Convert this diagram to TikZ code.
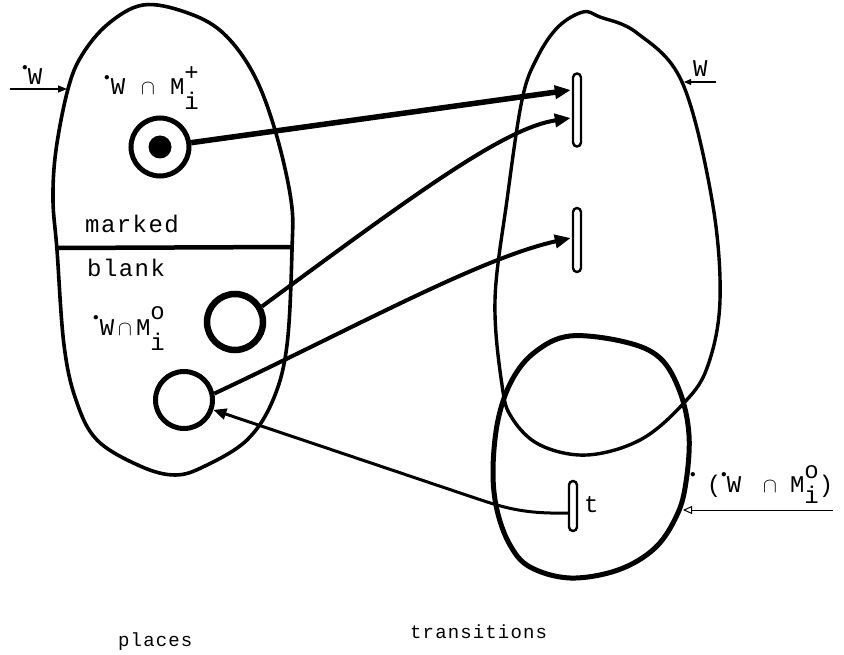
\documentclass[tikz,border=0pt]{standalone}
\usepackage{graphicx}
\usepackage{fontspec}
\setmonofont{Liberation Mono}
\newfontfamily\tw[LetterSpace=6]{Liberation Mono}
\usetikzlibrary{arrows.meta,calc}
\newcommand\udot{\raisebox{0.62em}{\scalebox{0.45}{$\bullet$}}}
\newcommand\capx{{\fontsize{20}{20}\selectfont$\cap$}}
\tikzset{
 blob/.style={line width=3.6pt, line join=round},
 place/.style={circle, draw, line width=5pt, minimum size=58pt, inner sep=0pt},
 token/.style={circle, fill, minimum size=23pt, inner sep=0pt},
 trans/.style={rectangle, draw, line width=2.4pt, rounded corners=4pt, minimum width=8pt, inner sep=0pt, fill=white},
 arc/.style={line width=4pt, -{Triangle[length=16pt,width=13pt]}},
 lbl/.style={inner sep=0pt, anchor=base west, font=\tw\fontsize{24}{28}\selectfont},
 botlbl/.style={inner sep=0pt, anchor=base west, font=\tw\fontsize{19}{22}\selectfont},
 pointer/.style={line width=1.3pt, -{Triangle[length=9pt,width=7pt]}},
}
\begin{document}
\begin{tikzpicture}[x=1pt,y=-1pt]
\useasboundingbox (0,0) rectangle (844,655);
% left blob (places)
\draw[blob] plot[smooth cycle, tension=0.6] coordinates {
 (143,5) (185,12) (222,32) (253,73) (275,130) (291,200) (292,250) (287,345)
 (273,400) (247,440) (205,466) (175,475) (140,466) (97,440) (76,400) (64,345)
 (57,250) (53,200) (56,150) (68,89) (82,55) (108,24)};
% separator
\draw[line width=4.5pt] (57,248) -- (292,247);
% upper right blob (W)
\draw[blob, line width=3.4pt] plot[smooth cycle, tension=0.6] coordinates {
 (583,12) (600,17) (637,33) (682,82) (712,200) (720,300) (707,368) (682,405)
 (640,440) (587,455) (540,445) (512,418) (502,385) (495,300) (507,200)
 (522,100) (537,58) (558,27)};
% lower right blob
\draw[blob, line width=5pt] plot[smooth cycle, tension=0.6] coordinates {
 (570,336) (625,342) (660,358) (680,392) (689,435) (686,482) (677,515)
 (655,548) (618,570) (570,578) (530,567) (510,545) (497,510) (493,470)
 (498,420) (512,380) (535,352)};
% places
\node[place] (p1) at (160,147) {};
\node[token] (tok) at (p1) {};
\node[place, line width=6.5pt, minimum size=56pt] (p2) at (235,322) {};
\node[place, minimum size=57pt] (p3) at (184,400) {};
% transitions
\node[trans, minimum height=73pt] (t1) at (577,110) {};
\node[trans, minimum height=64pt] (t2) at (577,240) {};
\node[trans, minimum height=50pt] (t3) at (573,506) {};
% arcs
\draw[arc, line width=5.5pt] (p1) -- ($(t1.west)+(-1,-20)$);
\draw[arc] (p2.30) .. controls (420,190) and (505,128) .. ($(t1.west)+(-1,8)$);
\draw[arc] (p3.12) .. controls (350,330) and (480,258) .. ($(t2.west)+(-1,-2)$);
\coordinate (bend) at (478,499);
\draw[line width=3pt, -{Triangle[length=13pt,width=11pt]}]
  ($(t3.west)+(0,7)$) .. controls (525,514) and (505,508) .. (bend) -- (p3);
% pointer arrows
\coordinate (wl0) at (10,89);
\coordinate (wl1) at (67,89);
\draw[pointer] (wl0) -- (wl1);
\coordinate (wr0) at (716,82);
\coordinate (wr1) at (684,82);
\draw[pointer, line width=1.1pt, -{Triangle[length=7pt,width=6pt]}] (wr0) -- (wr1);
\coordinate (br0) at (833,510);
\coordinate (br1) at (683,510);
\draw[line width=1pt, -{Triangle[open,length=9pt,width=8pt]}] (br0) -- (br1);
% labels
\node[lbl] (lw) at (22,85) {\udot W};
\node[lbl] (l1) at (104,95) {\udot\kern1pt W\kern16pt\capx\kern15pt M\rlap{\raisebox{14pt}{+}}\raisebox{-15pt}{i}};
\node[lbl] (lm) at (85,233) {marked};
\node[lbl] (lb) at (87,277) {blank};
\node[lbl] (l2) at (93,335) {\udot\kern1pt W\kern4pt\capx\kern4pt M\rlap{\raisebox{16pt}{o}}\raisebox{-15pt}{i}};
\node[lbl] (lwr) at (693,77) {W};
\node[lbl] (lt) at (584,512) {t};
\node[lbl] (l3) at (690,492) {\udot\kern11pt(\udot\kern0pt W\kern22pt\capx\kern13pt M\rlap{\raisebox{14pt}{o}}\raisebox{-11pt}{i})};
\node[botlbl] (lp) at (118,646) {places};
\node[botlbl] (ltr) at (410,638) {transitions};
\end{tikzpicture}
\end{document}
